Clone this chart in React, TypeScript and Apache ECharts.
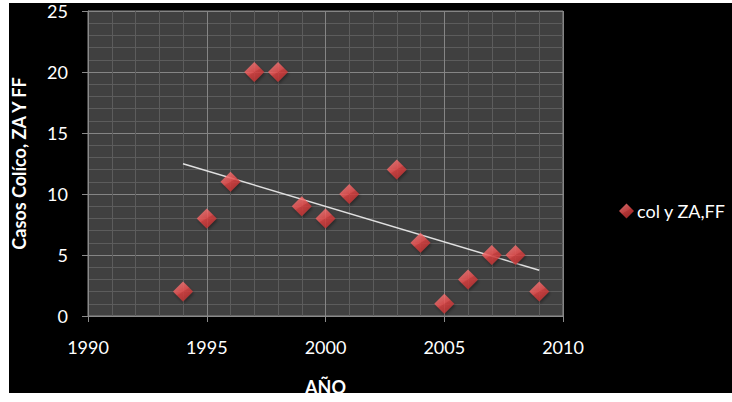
import React, { useEffect, useRef } from "react";
import * as echarts from "echarts";

// Casos por año
const years = [1994, 1995, 1996, 1997, 1998, 1999, 2000, 2001, 2003, 2004, 2005, 2006, 2007, 2008, 2009];
const cases = [2, 8, 11, 20, 20, 9, 8, 10, 12, 6, 1, 3, 5, 5, 2];
const seriesName = "col y ZA,FF";
const xTitle = "AÑO";
const yTitle = "Casos Colíco, ZA Y FF";

// Least-squares trend line over the series
function trend(xs: number[], ys: number[]): number[][] {
  const n = xs.length;
  const mx = xs.reduce((a, b) => a + b, 0) / n;
  const my = ys.reduce((a, b) => a + b, 0) / n;
  let sxy = 0;
  let sxx = 0;
  for (let i = 0; i < n; i++) {
    sxy += (xs[i] - mx) * (ys[i] - my);
    sxx += (xs[i] - mx) * (xs[i] - mx);
  }
  const b = sxy / sxx;
  const a = my - b * mx;
  const x0 = Math.min(...xs);
  const x1 = Math.max(...xs);
  return [
    [x0, a + b * x0],
    [x1, a + b * x1],
  ];
}

const FONT = "Lato, 'Open Sans', sans-serif";

export default function App() {
  const ref = useRef<HTMLDivElement>(null);

  useEffect(() => {
    document.body.style.margin = "0";
    if (!ref.current) return;
    const chart = echarts.init(ref.current, undefined, { renderer: "svg" });
    // Bevelled diamond: lit upper facets, shaded lower facets
    const markerFill = new echarts.graphic.LinearGradient(0.2, 0, 0.8, 1, [
      { offset: 0, color: "#ff8080" },
      { offset: 0.48, color: "#ee5252" },
      { offset: 0.52, color: "#dc4242" },
      { offset: 1, color: "#bc2e2e" },
    ]);
    chart.setOption({
      animation: false,
      backgroundColor: "#ffffff",
      graphic: [
        {
          type: "rect",
          z: -10,
          shape: { x: 9, y: 3, width: 723, height: 390 },
          style: { fill: "#000000" },
          silent: true,
        },
      ],
      grid: {
        left: 88,
        top: 11,
        right: 169,
        bottom: 86,
        containLabel: false,
        outerBoundsMode: "none",
        show: true,
        backgroundColor: "#404040",
        borderColor: "#8a8a8a",
        borderWidth: 1,
      },
      legend: {
        left: 614,
        top: 197,
        orient: "vertical",
        data: [{ name: seriesName, icon: "diamond" }],
        itemWidth: 15,
        itemHeight: 15,
        itemGap: 4,
        textStyle: { color: "#ffffff", fontSize: 18, fontFamily: FONT, padding: [0, 0, 0, -2] },
      },
      xAxis: {
        type: "value",
        min: 1990,
        max: 2010,
        interval: 5,
        name: xTitle,
        nameLocation: "middle",
        nameGap: 62,
        nameTextStyle: { color: "#ffffff", fontSize: 18, fontWeight: "bold", fontFamily: FONT },
        axisLine: { show: true, lineStyle: { color: "#8a8a8a" } },
        axisTick: { show: true, length: 6, lineStyle: { color: "#8a8a8a" } },
        axisLabel: {
          color: "#ffffff",
          fontSize: 18,
          fontFamily: FONT,
          margin: 22,
          formatter: (v: number) => String(v),
        },
        splitLine: { show: true, lineStyle: { color: "#858585", width: 1 } },
        minorTick: { show: false, splitNumber: 5 },
        minorSplitLine: { show: true, lineStyle: { color: "#5c5c5c", width: 1 } },
      },
      yAxis: {
        type: "value",
        min: 0,
        max: 25,
        interval: 5,
        name: yTitle,
        nameLocation: "middle",
        nameGap: 60,
        nameTextStyle: { color: "#ffffff", fontSize: 18, fontWeight: "bold", fontFamily: FONT },
        axisLine: { show: true, lineStyle: { color: "#8a8a8a" } },
        axisTick: { show: true, length: 6, lineStyle: { color: "#8a8a8a" } },
        axisLabel: { color: "#ffffff", fontSize: 18, fontFamily: FONT, margin: 20 },
        splitLine: { show: true, lineStyle: { color: "#858585", width: 1 } },
        minorTick: { show: false, splitNumber: 5 },
        minorSplitLine: { show: true, lineStyle: { color: "#5c5c5c", width: 1 } },
      },
      series: [
        {
          name: "tendencia",
          type: "line",
          data: trend(years, cases),
          symbol: "none",
          lineStyle: { color: "#e0e0e0", width: 1.5 },
          z: 2,
          silent: true,
        },
        {
          name: seriesName,
          type: "scatter",
          symbol: "diamond",
          symbolSize: 20,
          data: years.map((y, i) => [y, cases[i]]),
          itemStyle: {
            color: markerFill,
            shadowColor: "rgba(0,0,0,0.45)",
            shadowBlur: 3,
            shadowOffsetX: 1,
            shadowOffsetY: 2,
          },
          z: 3,
        },
      ],
    });
    return () => chart.dispose();
  }, []);

  return <div ref={ref} style={{ width: 732, height: 402 }} />;
}
